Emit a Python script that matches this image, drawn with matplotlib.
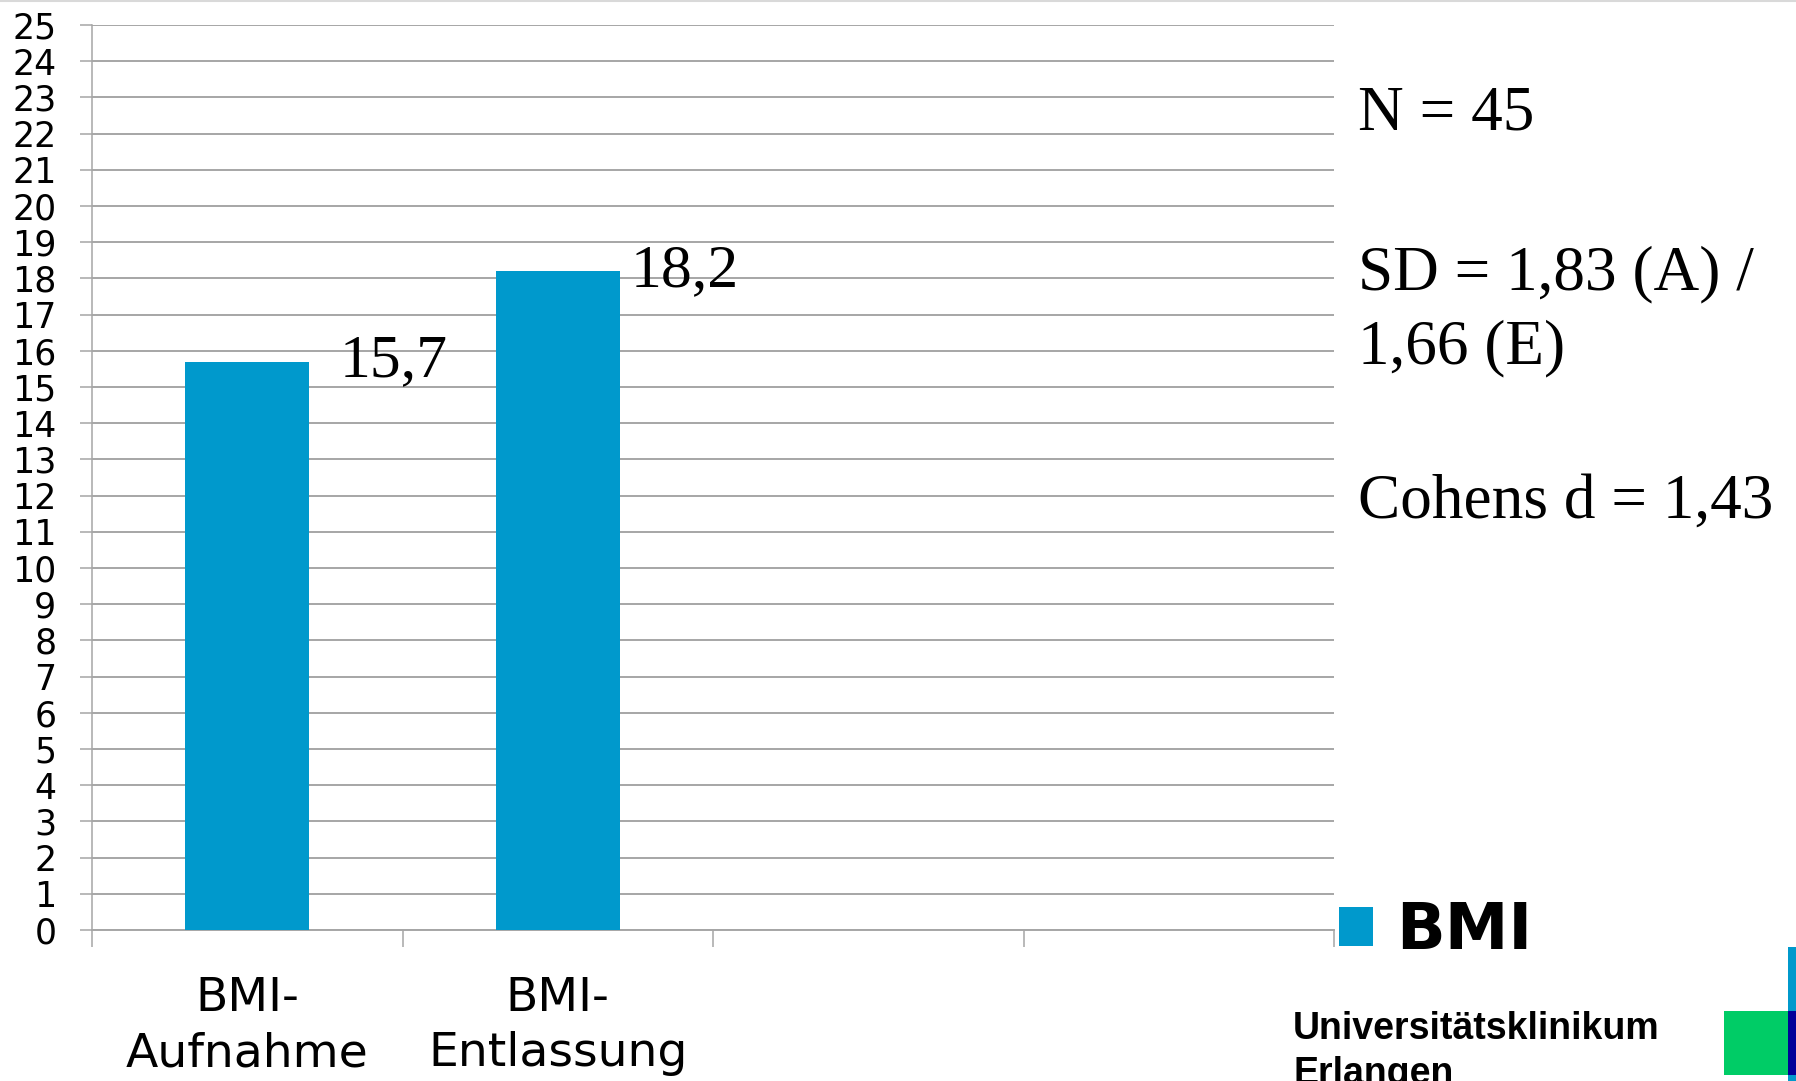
import matplotlib
matplotlib.use("Agg")
import matplotlib.pyplot as plt
from matplotlib.patches import Rectangle, Patch
from matplotlib.lines import Line2D

# data
categories = ["BMI-\nAufnahme", "BMI-\nEntlassung"]
bmi_values = [15.7, 18.2]
value_labels = ["15,7", "18,2"]
n_slots = 4
y_ticks = list(range(0, 26))
stats_lines = ["N = 45", "SD = 1,83 (A) /", "1,66 (E)", "Cohens d = 1,43"]
legend_label = "BMI"
logo_lines = ["Universitätsklinikum", "Erlangen"]

BLUE = "#0099cc"
GRID = "#a6a6a6"
W, H = 1796, 1081


def fx(px):
    return px / W


def fy(py):
    # py measured from the top edge
    return 1 - py / H


fig = plt.figure(figsize=(W / 100, H / 100), dpi=100)
ax = fig.add_axes([fx(92), fy(930), fx(1334) - fx(92), fy(25) - fy(930)])

centers = [i + 0.5 for i in range(len(bmi_values))]
bars = ax.bar(centers, bmi_values, width=0.4, color=BLUE, zorder=3)

# labels sit to the right of each bar top
label_dx = [22, 8]
for rect, txt, dx in zip(bars, value_labels, label_dx):
    ax.annotate(txt, xy=(rect.get_x() + rect.get_width(), rect.get_height()),
                xytext=(dx, -10.8), textcoords="offset points",
                ha="left", va="baseline", family="Liberation Serif",
                fontsize=44.5, color="black", zorder=4)

ax.set_xlim(0, n_slots)
ax.set_ylim(0, 25)
ax.set_yticks(y_ticks)
ax.set_yticklabels([str(t) for t in y_ticks], family="DejaVu Sans", fontsize=25)
ax.yaxis.grid(True, color=GRID, linewidth=1.4, zorder=0)
ax.tick_params(axis="y", length=8.6, width=1.1, color=GRID, pad=17)

ax.set_xticks(range(n_slots + 1))
ax.set_xticklabels([])
ax.set_xticks(centers, minor=True)
ax.set_xticklabels(categories, minor=True, family="DejaVu Sans", fontsize=34,
                   linespacing=1.3)
ax.tick_params(axis="x", which="major", length=12.2, width=1.1, color=GRID)
ax.tick_params(axis="x", which="minor", length=0, pad=33)

for side in ["top", "right"]:
    ax.spines[side].set_visible(False)
ax.spines["left"].set_color(GRID)
ax.spines["left"].set_linewidth(1.1)
ax.spines["bottom"].set_color(GRID)
ax.spines["bottom"].set_linewidth(1.4)

# statistics block
stat_y = [130, 289, 363, 518]
for txt, yy in zip(stats_lines, stat_y):
    fig.text(fx(1358), fy(yy), txt, family="Liberation Serif", fontsize=45.5,
             ha="left", va="baseline")

# legend
handle = Patch(facecolor=BLUE, edgecolor="none")
fig.legend([handle], [legend_label], loc="center left",
           bbox_to_anchor=(fx(1339), fy(931)), bbox_transform=fig.transFigure,
           frameon=False, borderpad=0, borderaxespad=0,
           handlelength=0.53, handleheight=0.55, handletextpad=0.37,
           prop={"family": "DejaVu Sans", "weight": "bold", "size": 46})

# clinic logo, second line runs off the bottom edge
for txt, yy in zip(logo_lines, [1039, 1084]):
    fig.text(fx(1293), fy(yy), txt, family="Liberation Sans", weight="bold",
             fontsize=27, ha="left", va="baseline")
fig.add_artist(Rectangle((fx(1724), fy(1075)), fx(64), 64 / H,
                         transform=fig.transFigure, color="#00cc66", lw=0))
fig.add_artist(Rectangle((fx(1788), 0), fx(8), 134 / H,
                         transform=fig.transFigure, color=BLUE, lw=0))
fig.add_artist(Rectangle((fx(1788), fy(1075)), fx(8), 64 / H,
                         transform=fig.transFigure, color="#000099", lw=0))

# thin frame line along the top edge
fig.add_artist(Line2D([0, 1], [fy(1), fy(1)], transform=fig.transFigure,
                      color="#d9d9d9", linewidth=1.5))

fig.savefig("out.png", dpi=100)
